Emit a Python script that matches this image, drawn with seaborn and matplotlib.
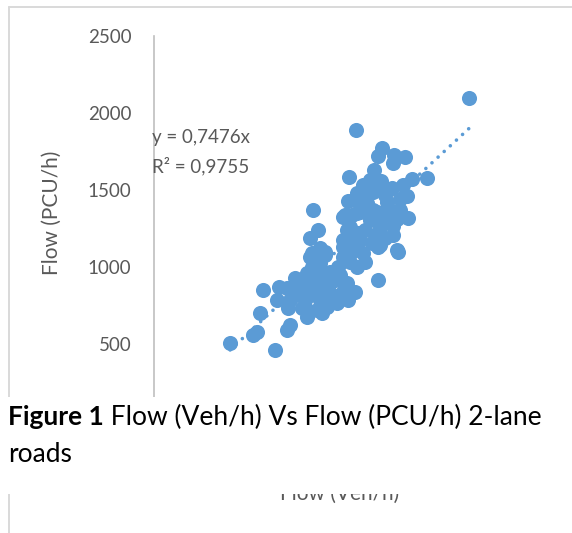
import matplotlib
matplotlib.use("Agg")
import matplotlib.pyplot as plt
from matplotlib.patches import Rectangle
from matplotlib.lines import Line2D
import seaborn as sns
import pandas as pd

# Observed flows on 2-lane roads: vehicles per hour vs passenger car units per hour
flow_veh = [
    2543, 1632, 1842, 1809, 1938, 2027, 1930, 1777, 1576, 2084,
    2204, 1689, 1834, 1922, 2043, 1640, 1769, 1568, 1689, 1882,
    1987, 1286, 1543, 1664, 1801, 1906, 2051, 1963, 1745, 1600,
    1326, 1261, 1560, 1648, 1826, 1930, 1930, 1963, 1761, 1809,
    1527, 1624, 1278, 1382, 1584, 1640, 1705, 1487, 1342, 1278,
    1423, 1140, 1237, 1342, 1463, 1560, 1809, 1624, 1076, 1181,
    1286, 1406, 1519, 1100, 1221, 1342, 1463, 1568, 883, 1012,
    995, 1084, 1197, 1318, 1398, 1479, 1237, 1358, 858, 1100,
    1076, 802, 834, 979, 617, 1237, 1318, 1398, 1503, 1342,
    1423, 1705, 1584, 1527, 1826, 1608, 1689, 1850, 1721, 1640,
    1769, 1826, 1527, 1705, 1866, 1745, 1664, 1866, 1987, 1785,
    1664, 1866, 1181, 1302, 1382, 1447, 1261, 1140, 1543, 1261,
    1527, 1221, 1439, 1342, 1382, 1584, 1971, 2011,
]
flow_pcu = [
    2098, 1890, 1773, 1721, 1727, 1714, 1675, 1630, 1585, 1572,
    1578, 1533, 1559, 1513, 1461, 1481, 1487, 1429, 1422, 1422,
    1442, 1370, 1338, 1357, 1357, 1370, 1318, 1312, 1305, 1338,
    1240, 1188, 1240, 1221, 1260, 1266, 1208, 1110, 1156, 1130,
    1130, 1110, 1091, 1097, 1033, 1000, 1033, 1000, 1026, 1000,
    968, 929, 916, 929, 916, 896, 916, 838, 864, 851,
    851, 851, 831, 786, 786, 786, 773, 786, 851, 870,
    786, 734, 734, 721, 740, 766, 675, 701, 701, 623,
    591, 558, 578, 461, 507, 961, 1000, 916, 948, 831,
    831, 1240, 1260, 1175, 1143, 1123, 1091, 1520, 1416, 1351,
    1370, 1305, 1325, 1500, 1468, 1565, 1403, 1338, 1370, 1208,
    1175, 1188, 903, 883, 883, 812, 818, 818, 870, 1065,
    1065, 740, 818, 1123, 1078, 1175, 1097, 1533,
]

# Linear trendline through the origin and its goodness of fit
trend_slope = 0.7476
trend_r2 = 0.9755

y_ticks = [500, 1000, 1500, 2000, 2500]
x_ticks = [0, 500, 1000, 1500, 2000, 2500, 3000]

x_title = "Flow (Veh/h)"
y_title = "Flow (PCU/h)"
caption_bold = "Figure 1"
caption_rest = " Flow (Veh/h) Vs Flow (PCU/h) 2-lane"
caption_line2 = "roads"

df = pd.DataFrame({"veh": flow_veh, "pcu": flow_pcu})

sns.set_theme(style="white")
plt.rcParams["font.family"] = ["Lato", "DejaVu Sans"]

W, H = 572, 533
fig = plt.figure(figsize=(W / 100, H / 100), dpi=100)
fig.patch.set_facecolor("white")

def fx(px):
    return px / W

def fy(py):
    return 1 - py / H

grey_text = "#595959"
blue = "#5B9BD5"

ax = fig.add_axes([fx(153.5), fy(421), (526 - 153.5) / W, (421 - 36) / H])
ax.set_facecolor("white")

sns.scatterplot(data=df, x="veh", y="pcu", ax=ax, color=blue, s=118,
                linewidth=0, zorder=3, legend=False)

x_lo, x_hi = min(flow_veh), max(flow_veh)
trend = pd.DataFrame({"veh": [x_lo, x_hi],
                      "pcu": [trend_slope * x_lo, trend_slope * x_hi]})
ax.plot(trend["veh"], trend["pcu"], color=blue, lw=2.6,
        linestyle=(0, (0.01, 2.3)), dash_capstyle="round", zorder=4)

ax.set_xlim(0, 3000)
ax.set_ylim(0, 2500)
ax.set_xticks(x_ticks)
ax.set_yticks(y_ticks)
ax.tick_params(axis="both", length=0, labelsize=13.5, labelcolor=grey_text, pad=16)
ax.tick_params(axis="x", labelbottom=False)
for side in ("top", "right"):
    ax.spines[side].set_visible(False)
for side in ("left", "bottom"):
    ax.spines[side].set_color("#BFBFBF")
    ax.spines[side].set_linewidth(1.2)

ax.set_ylabel(y_title, fontsize=15, color=grey_text)
ax.yaxis.set_label_coords((62 - 153.5) / (526 - 153.5), (421 - 213) / 385)
ax.set_xlabel(x_title, fontsize=15, color=grey_text)
ax.xaxis.set_label_coords(0.5, (421 - 484) / 385)

# Trendline equation label
fig.text(fx(152), fy(138), "y = 0,7476x", fontsize=13.5, color=grey_text,
         ha="left", va="center")
fig.text(fx(152), fy(166), f"R² = {trend_r2:.4f}".replace(".", ","),
         fontsize=13.5, color=grey_text, ha="left", va="center")

# Chart frame
frame_kw = dict(color="#D9D9D9", lw=1.4, transform=fig.transFigure, zorder=2)
fig.add_artist(Line2D([fx(8.5), 1.0], [fy(7), fy(7)], **frame_kw))
fig.add_artist(Line2D([fx(8.5), fx(8.5)], [fy(7), 0.0], **frame_kw))

# Caption band laid over the lower part of the chart
band = Rectangle((0, fy(494)), 1, fy(397) - fy(494), transform=fig.transFigure,
                 facecolor="white", edgecolor="none", zorder=10)
fig.add_artist(band)

cap_size = 19
t1 = fig.text(fx(8), fy(425), caption_bold, fontsize=cap_size, fontweight="bold",
              color="black", ha="left", va="baseline", zorder=11)
fig.canvas.draw()
bb = t1.get_window_extent()
fig.text(bb.x1 / W, fy(425), caption_rest, fontsize=cap_size, color="black",
         ha="left", va="baseline", zorder=11)
fig.text(fx(8), fy(462), caption_line2, fontsize=cap_size, color="black",
         ha="left", va="baseline", zorder=11)

fig.savefig("out.png", dpi=100, facecolor="white")
